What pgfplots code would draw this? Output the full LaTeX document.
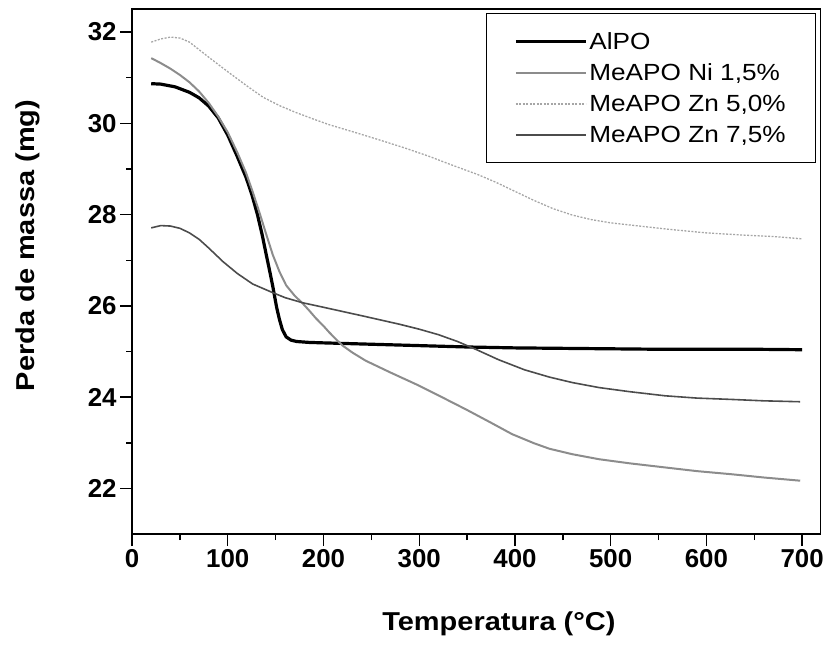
\documentclass[border=0pt]{standalone}
\usepackage{fontspec}
\setmainfont{Liberation Sans}
\newfontfamily\wide[FakeStretch=1.12]{Liberation Sans}
\usepackage{pgfplots}
\pgfplotsset{compat=1.18}
\begin{document}
\begin{tikzpicture}
\begin{axis}[name=ax, scale only axis, width=689.4bp, height=525.7bp,
 xmin=0, xmax=719, ymin=21, ymax=32.5,
 xtick={0,100,...,700}, ytick={22,24,...,32},
 minor x tick num=1, minor y tick num=1,
 tick pos=left, tick align=outside,
 major tick length=12bp, minor tick length=6bp,
 every tick/.style={black, line width=1.4bp},
 axis line style={line width=1.6bp},
 ticklabel style={font=\fontsize{26}{30}\selectfont\bfseries},
 /pgf/number format/assume math mode=true,
 xlabel={Temperatura (°C)},
 ylabel={Perda de massa (mg)},
 xlabel style={font=\wide\fontsize{26}{30}\selectfont\bfseries, at={(axis description cs:0.533,-0.1845)}, anchor=base},
 ylabel style={font=\wide\fontsize{26}{30}\selectfont\bfseries, at={(axis description cs:-0.152,0.55)}, anchor=center},
 legend style={at={(rel axis cs:0.9942,0.9924)}, anchor=north east, draw=black, line width=1.2bp,
   inner xsep=28bp, inner ysep=16.5bp, font=\wide\fontsize{23.5}{28}\selectfont, row sep=9bp},
 legend cell align=left,
 legend image code/.code={\draw[#1] (0bp,0bp) -- (70bp,0bp);},
]
\addplot[black, line width=3.2bp] coordinates {
(20,30.87) (30,30.86) (45,30.8) (60,30.68) (70,30.56) (80,30.38) (90,30.12) (100,29.74) (110,29.27) (119,28.82) (125,28.45) (131,28.0) (136,27.55) (140,27.14) (144,26.74) (147,26.43) (151,25.97) (154,25.70) (157,25.48) (161,25.32) (166,25.25) (172,25.22) (185,25.20) (200,25.19) (250,25.16) (300,25.13) (350,25.10) (400,25.08) (450,25.07) (500,25.06) (550,25.05) (600,25.05) (650,25.05) (700,25.04)
};
\addlegendentry{AlPO}
\addplot[black!45, line width=2bp] coordinates {
(20,31.43) (30,31.32) (40,31.2) (50,31.06) (60,30.9) (70,30.7) (80,30.45) (90,30.15) (100,29.8) (110,29.36) (119,28.92) (126,28.5) (133,28.05) (140,27.58) (147,27.12) (154,26.75) (161,26.45) (170,26.22) (178,26.06) (185,25.9) (192,25.73) (200,25.56) (206,25.42) (213,25.27) (220,25.13) (230,24.98) (244,24.8) (270,24.54) (297,24.28) (320,24.04) (349,23.73) (375,23.44) (397,23.19) (420,22.99) (436,22.87) (460,22.75) (488,22.64) (520,22.55) (557,22.46) (590,22.38) (627,22.31) (660,22.24) (698,22.17)
};
\addlegendentry{MeAPO Ni 1,5\%}
\addplot[black!35, line width=1.3bp, dash pattern=on 2bp off 1.5bp] coordinates {
(20,31.78) (30,31.85) (40,31.89) (50,31.87) (60,31.78) (77,31.5) (90,31.29) (102,31.1) (120,30.82) (137,30.57) (155,30.38) (171,30.24) (190,30.09) (206,29.97) (230,29.82) (258,29.64) (285,29.46) (310,29.28) (335,29.08) (361,28.88) (380,28.71) (400,28.51) (420,28.31) (440,28.13) (460,27.99) (480,27.89) (500,27.82) (530,27.75) (560,27.68) (600,27.6) (640,27.55) (670,27.52) (700,27.47)
};
\addlegendentry{MeAPO Zn 5,0\%}
\addplot[black!70, line width=1.6bp] coordinates {
(20,27.71) (30,27.76) (40,27.75) (50,27.7) (60,27.6) (70,27.46) (80,27.27) (95,26.97) (110,26.71) (126,26.48) (147,26.29) (160,26.18) (178,26.07) (200,25.97) (241,25.78) (279,25.6) (300,25.49) (320,25.37) (340,25.22) (360,25.04) (383,24.82) (410,24.6) (436,24.44) (460,24.32) (488,24.21) (520,24.12) (557,24.03) (590,23.98) (627,23.95) (660,23.92) (698,23.9)
};
\addlegendentry{MeAPO Zn 7,5\%}
\end{axis}
\path ([xshift=-132.3bp,yshift=-112bp]ax.south west) rectangle ([xshift=5.3bp,yshift=9.3bp]ax.north east);
\end{tikzpicture}
\end{document}
